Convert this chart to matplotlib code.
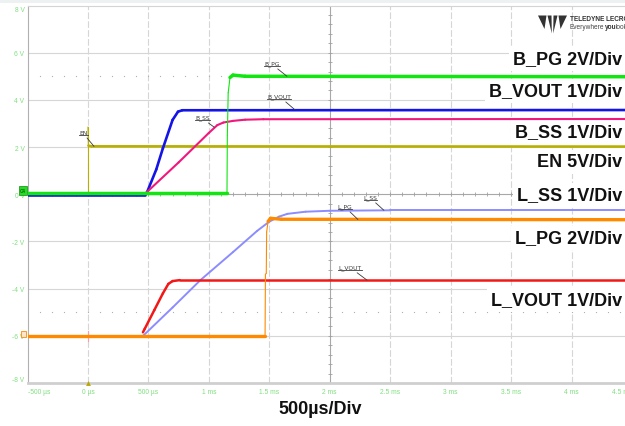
import numpy as np
import matplotlib
matplotlib.use("Agg")
import matplotlib.pyplot as plt
from matplotlib.collections import LineCollection
from matplotlib.patches import Rectangle, Polygon
from matplotlib.lines import Line2D
from matplotlib.text import Text

# ---------------- data (time in ms, value in screen volts) ----------------
t_en = [-0.5, 0.0, 0.0, 0.004, 0.03, 4.6]
v_en = [0.0, 0.0, 2.85, 2.06, 2.03, 2.02]

t_bpg = [-0.5, 1.15, 1.153, 1.16, 1.175, 1.2, 1.3, 4.6]
v_bpg = [0.04, 0.04, 2.5, 4.3, 4.95, 5.05, 5.0, 4.98]

t_bvout = [-0.5, 0.47, 0.49, 0.565, 0.62, 0.70, 0.745, 0.78, 4.6]
v_bvout = [-0.03, -0.03, 0.1, 1.05, 1.95, 3.15, 3.5, 3.56, 3.57]

t_bss = [0.485, 0.75, 1.0, 1.07, 1.12, 1.2, 1.3, 1.45, 4.6]
v_bss = [0.08, 1.35, 2.6, 2.93, 3.04, 3.11, 3.16, 3.18, 3.19]

t_lss = [0.46, 0.7, 0.93, 1.2, 1.4, 1.5, 1.58, 1.65, 1.8, 2.0, 2.5, 4.6]
v_lss = [-5.98, -4.8, -3.64, -2.45, -1.55, -1.16, -0.95, -0.83, -0.74, -0.7, -0.68, -0.68]

t_lpg = [-0.5, 1.465, 1.468, 1.475, 1.478, 1.49, 1.51, 1.6, 4.6]
v_lpg = [-6.02, -6.02, -3.4, -3.35, -1.6, -1.15, -1.02, -1.06, -1.08]

t_lvout = [0.455, 0.47, 0.55, 0.62, 0.665, 0.7, 0.76, 4.6]
v_lvout = [-5.85, -5.7, -4.9, -4.2, -3.8, -3.68, -3.64, -3.64]

x_ticks = [-0.5, 0.0, 0.5, 1.0, 1.5, 2.0, 2.5, 3.0, 3.5, 4.0, 4.5]
x_tick_labels = ["-500 µs", "0 µs", "500 µs", "1 ms", "1.5 ms", "2 ms",
                 "2.5 ms", "3 ms", "3.5 ms", "4 ms", "4.5 ms"]
y_ticks = [-8, -6, -4, -2, 0, 2, 4, 6, 8]
y_tick_labels = ["-8 V", "-6 V", "-4 V", "-2 V", "0 V", "2 V", "4 V", "6 V", "8 V"]

channel_labels = ["B_PG 2V/Div", "B_VOUT 1V/Div", "B_SS 1V/Div", "EN 5V/Div",
                  "L_SS 1V/Div", "L_PG 2V/Div", "L_VOUT 1V/Div"]
timebase_label = "500µs/Div"

# ---------------- figure ----------------
W, H = 625, 427
fig = plt.figure(figsize=(W / 100, H / 100), dpi=100)


def P(x, y):
    """pixel (from top-left) -> figure fraction"""
    return (x / W, 1 - y / H)


ax_left, ax_top, ax_bot = 27.5, 6.5, 384.0
x_right_lim = 4.5
px_per_ms = 120.9
ax_right = ax_left + (x_right_lim + 0.5) * px_per_ms
ax = fig.add_axes([ax_left / W, 1 - ax_bot / H, (ax_right - ax_left) / W, (ax_bot - ax_top) / H])
ax.set_xlim(-0.5, x_right_lim)
ax.set_ylim(-8, 8)

# top light band
fig.patches.append(Rectangle(P(0, 4), 1, 4 / H, transform=fig.transFigure,
                             facecolor="#eef1f1", edgecolor="none", zorder=0))

# spines
ax.spines["right"].set_visible(False)
ax.spines["top"].set_color("#d4d4d4")
ax.spines["top"].set_linewidth(0.8)
ax.spines["left"].set_color("#b0b0b0")
ax.spines["left"].set_linewidth(0.8)
ax.spines["bottom"].set_color("#cfcfcf")
ax.spines["bottom"].set_linewidth(2.0)

# grid
for y in [-6, -4, -2, 2, 4, 6]:
    ax.axhline(y, color="#d6d6d6", lw=0.8, zorder=1)
for x in [0, 0.5, 1.0, 1.5, 2.5, 3.0, 3.5, 4.0]:
    ax.axvline(x, color="#d6d6d6", lw=0.8, ls=(0, (6, 2)), zorder=1)
# center crosshair
ax.axhline(0, color="#a8a8a8", lw=0.8, zorder=1)
ax.axvline(2.0, color="#a8a8a8", lw=0.8, zorder=1)
mx = np.arange(-0.5, 4.55, 0.1)
ax.plot(mx, np.zeros_like(mx), ls="", marker="|", ms=3.5, mew=0.6, color="#a0a0a0", zorder=1)
my = np.arange(-8, 8.01, 0.4)
ax.plot(np.full_like(my, 2.0), my, ls="", marker="_", ms=3.5, mew=0.6, color="#a0a0a0", zorder=1)
# dotted lines at +-5
for y in [5, -5]:
    ax.plot(mx[1:], np.full_like(mx[1:], y), ls="", marker="s", ms=0.8, mew=0,
            color="#b0b0b0", zorder=1)

# ticks
ax.set_xticks(x_ticks)
ax.set_xticklabels(x_tick_labels)
ax.set_yticks(y_ticks)
ax.set_yticklabels(y_tick_labels)
ax.tick_params(length=0, colors="#7fdf7f", labelsize=4.8, pad=2.2)
ax.tick_params(axis="x", pad=3.5)
for lab in ax.get_xticklabels() + ax.get_yticklabels():
    lab.set_fontfamily("Liberation Sans")
ax.get_xticklabels()[0].set_ha("left")
ax.get_xticklabels()[-1].set_ha("right")
ax.get_yticklabels()[-1].set_va("top")
ax.get_yticklabels()[0].set_va("bottom")


# ---------------- traces ----------------
def trace(t, v, color, lw_flat, lw_edge=0.8, z=4):
    t = np.asarray(t, float)
    v = np.asarray(v, float)
    segs, widths = [], []
    for i in range(len(t) - 1):
        segs.append([(t[i], v[i]), (t[i + 1], v[i + 1])])
        dt = t[i + 1] - t[i]
        slope = np.inf if dt == 0 else abs((v[i + 1] - v[i]) / dt)
        steep = slope >= 25 or dt < 0.008
        widths.append(lw_edge if steep else lw_flat)
    lc = LineCollection(segs, colors=color, linewidths=widths, capstyle="round",
                        joinstyle="round", zorder=z)
    ax.add_collection(lc)


trace(t_lss, v_lss, "#8c8cff", 1.4, z=4)
trace(t_lvout, v_lvout, "#f21818", 1.8, z=4.1)
trace(t_lpg, v_lpg, "#ff8a00", 2.4, z=4.2)
trace(t_en, v_en, "#b8b000", 1.9, z=4.3)
trace(t_bvout, v_bvout, "#1414e6", 1.9, z=4.4)
trace(t_bss, v_bss, "#f0187c", 1.5, z=4.5)
trace(t_bpg, v_bpg, "#11e611", 2.5, z=4.6)

# small pink trigger mark
ax.plot([0, 0], [-5.8, -6.2], color="#ff9aa8", lw=0.8, zorder=4.05)

# ---------------- in-plot callouts ----------------
callouts = [
    ("EN", (-0.037, 2.61), (0.05, 2.03)),
    ("B_PG", (1.522, 5.55), (1.646, 5.0)),
    ("B_VOUT", (1.58, 4.15), (1.712, 3.58)),
    ("B_SS", (0.947, 3.26), (1.045, 2.84)),
    ("L_SS", (2.337, -0.127), (2.448, -0.68)),
    ("L_PG", (2.126, -0.51), (2.233, -1.07)),
    ("L_VOUT", (2.167, -3.09), (2.308, -3.64)),
]
callout_texts = []
for name, xyt, xy in callouts:
    a = ax.annotate(name, xy=xy, xytext=xyt, textcoords="data", ha="center", va="center",
                    fontsize=4.3, color="#3a3a3a", zorder=6,
                    arrowprops=dict(arrowstyle="-", lw=0.6, color="#3a3a3a",
                                    shrinkA=0, shrinkB=0, relpos=(0.65, 0)))
    callout_texts.append(a)

# ---------------- right-side channel labels ----------------
label_y = [60, 92, 133, 163, 196, 239, 301]
for s, yy in zip(channel_labels, label_y):
    ax.text(*P(622, yy), s, transform=fig.transFigure, ha="right", va="center",
            fontsize=13, fontweight="bold", family="Liberation Sans", color="#111111",
            zorder=3, bbox=dict(facecolor="white", edgecolor="none", pad=2.5))

fig.text(*P(320, 410), timebase_label, ha="center", va="center", fontsize=13,
         fontweight="bold", family="Liberation Sans", color="#111111")

# ---------------- channel markers ----------------
fig.patches.append(Rectangle(P(19, 196), 8 / W, 9 / H, transform=fig.transFigure,
                             facecolor="#22dd22", edgecolor="#118811", lw=0.5, zorder=7))
fig.text(*P(23, 191.5), "C4", ha="center", va="center", fontsize=3.3, color="#0a3a0a",
         zorder=8)
fig.patches.append(Rectangle(P(20.5, 337.5), 5 / W, 5.5 / H, transform=fig.transFigure,
                             facecolor="#ffe4cc", edgecolor="#ff8a00", lw=0.6, zorder=7))
ax.plot([0], [-8], marker="^", ms=3.5, color="#b8a800", clip_on=False, zorder=7, mew=0)

# ---------------- logo ----------------
blades = [
    [(538, 16.5), (546.5, 16.5), (544.5, 30)],
    [(547.5, 16.5), (551.5, 16.5), (551.8, 34.5)],
    [(553.5, 16.5), (557.5, 16.5), (553.2, 34.5)],
    [(558.5, 16.5), (567, 16.5), (560.5, 30)],
]
for b in blades:
    fig.patches.append(Polygon([P(*p) for p in b], closed=True, transform=fig.transFigure,
                               facecolor="#333333", edgecolor="none", zorder=5))
logo_font = ["DejaVu Sans Condensed", "Liberation Sans Narrow", "Liberation Sans"]
fig.text(*P(570, 19.5), "TELEDYNE LECROY", ha="left", va="center", fontsize=4.7,
         fontweight="bold", family=logo_font, color="#333333")
t1 = fig.text(*P(570, 27.5), "Everywhere", ha="left", va="center", fontsize=4.7,
              family=logo_font, color="#444444")
t2 = ax.annotate("you", xy=(1, 0), xycoords=t1, va="bottom", ha="left", fontsize=4.7,
                 fontweight="bold", family=logo_font,
                 color="#333333", annotation_clip=False)
ax.annotate("look", xy=(1, 0), xycoords=t2, va="bottom", ha="left", fontsize=4.7,
            family=logo_font, color="#444444", annotation_clip=False)

# ---------------- underlines for callouts ----------------
fig.canvas.draw()
renderer = fig.canvas.get_renderer()
for a in callout_texts:
    bb = Text.get_window_extent(a, renderer)
    fig.lines.append(Line2D([bb.x0 / W, bb.x1 / W], [(bb.y0 + 0.3) / H, (bb.y0 + 0.3) / H],
                            transform=fig.transFigure, color="#3a3a3a", lw=0.6, zorder=6))

fig.savefig("out.png", dpi=100)
